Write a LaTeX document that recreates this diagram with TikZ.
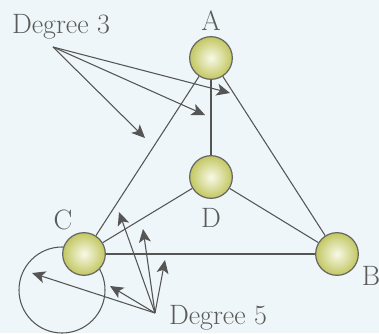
\documentclass[tikz,border=0pt]{standalone}
\usetikzlibrary{arrows.meta}
\definecolor{bgc}{HTML}{EFF6F9}
\definecolor{ballin}{HTML}{F8F9E8}
\definecolor{ballout}{HTML}{C2C760}
\definecolor{edgec}{HTML}{555555}
\definecolor{txtc}{HTML}{5A5A5A}
\tikzset{
  ball/.style={circle, draw=edgec!90, line width=0.9pt, minimum size=32pt, inner sep=0pt, inner color=ballin, outer color=ballout},
  lbl/.style={text=txtc, font=\fontsize{21}{23}\selectfont, inner sep=0pt},
  edgeline/.style={draw=edgec, line width=0.8pt},
  pointer/.style={draw=edgec, line width=0.8pt, -{Stealth[length=10pt,width=9pt,inset=2.5pt]}},
}
\begin{document}
\begin{tikzpicture}[x=0.75pt,y=-0.75pt]
\fill[bgc] (0,0) rectangle (379,333);
\useasboundingbox (0,0) rectangle (379,333);
% loop at C
\draw[edgeline] (62,290) circle[radius=43];
% nodes
\node[ball] (A) at (211,58) {};
\node[ball] (D) at (211,177) {};
\node[ball] (C) at (84,254) {};
\node[ball] (B) at (337,254) {};
% labels
\node[lbl] (la) at (211,21) {A};
\node[lbl] (ld) at (211,218) {D};
\node[lbl] (lc) at (63,220) {C};
\node[lbl] (lb) at (371,276) {B};
\node[lbl] (deg3) at (61,27) {Degree 3};
\node[lbl] (deg5) at (218,318) {Degree 5};
% edges
\draw[edgeline] (A) -- (C);
\draw[edgeline] (A) -- (B);
\draw[edgeline] (A) -- (D);
\draw[edgeline] (D) -- (C);
\draw[edgeline] (D) -- (B);
\draw[edgeline] (C) -- (B);
% degree 3 pointers
\coordinate (p3) at (53,47);
\coordinate (t31) at (230,93);
\coordinate (t32) at (205,115);
\coordinate (t33) at (145,138);
\draw[pointer] (p3) -- (t31);
\draw[pointer] (p3) -- (t32);
\draw[pointer] (p3) -- (t33);
% degree 5 pointers
\coordinate (p5) at (155,313);
\coordinate (t51) at (32,273);
\coordinate (t52) at (110,286);
\coordinate (t53) at (119,212);
\coordinate (t54) at (143,229);
\coordinate (t55) at (165,260);
\draw[pointer] (p5) -- (t51);
\draw[pointer] (p5) -- (t52);
\draw[pointer] (p5) -- (t53);
\draw[pointer] (p5) -- (t54);
\draw[pointer] (p5) -- (t55);
\end{tikzpicture}
\end{document}
